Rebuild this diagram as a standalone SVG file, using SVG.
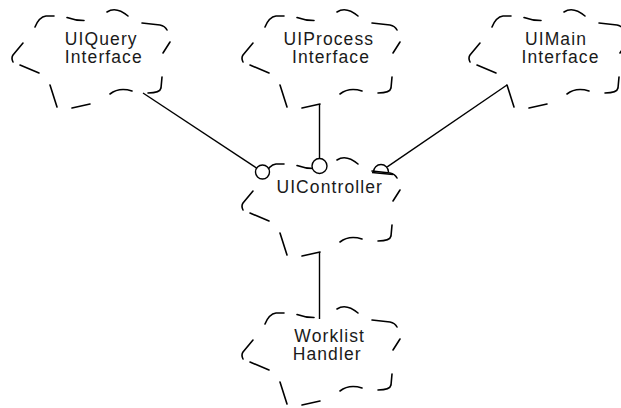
<svg xmlns="http://www.w3.org/2000/svg" xmlns:xlink="http://www.w3.org/1999/xlink" width="621" height="408" viewBox="0 0 621 408">
<style>
.cl path{fill:none;stroke:#000;stroke-width:1.6;stroke-linecap:round;stroke-linejoin:round}
.lbl{font-family:"Liberation Sans",Arial,sans-serif;font-size:17.5px;letter-spacing:1.1px;fill:#1a1a1a;text-anchor:middle}
.conn line,.conn path{stroke:#000;stroke-width:1.4;fill:none}
.lol{fill:#fff;stroke:#000;stroke-width:1.4}
</style>
<defs>
<g id="cloud" class="cl">
<path d="M35,27 Q39,17 46,16 L54,16"/>
<path d="M67,17.5 Q75,20.5 84,20.5"/>
<path d="M107,12 Q116,6 128,16"/>
<path d="M142,23 L160,25 Q165,26 167,30"/>
<path d="M170,42 L163,53"/>
<path d="M162,77 L161,88 Q160,93 148,93"/>
<path d="M110,94 Q119,87 132,91"/>
<path d="M72,108 L90,104"/>
<path d="M50,85 L57,107"/>
<path d="M20,65 L39,73"/>
<path d="M23,43 L13,55 Q11,58 13,62"/>
</g>
</defs>
<rect width="621" height="408" fill="#fff"/>
<g id="UIQueryInterface">
<use xlink:href="#cloud" href="#cloud"/>
<text class="lbl" x="101.3" y="44.5">UIQuery</text>
<text class="lbl" x="103.8" y="63.3">Interface</text>
</g>
<g id="UIProcessInterface">
<use xlink:href="#cloud" href="#cloud" transform="translate(230,0)"/>
<text class="lbl" x="328.8" y="44.5">UIProcess</text>
<text class="lbl" x="331" y="63.3">Interface</text>
</g>
<g id="UIMainInterface">
<use xlink:href="#cloud" href="#cloud" transform="translate(457,0)"/>
<text class="lbl" x="556" y="44.5">UIMain</text>
<text class="lbl" x="560.5" y="63.3">Interface</text>
</g>
<g id="UIController">
<use xlink:href="#cloud" href="#cloud" transform="translate(230,148)"/>
<text class="lbl" x="329.7" y="193.3">UIController</text>
</g>
<g id="WorklistHandler">
<use xlink:href="#cloud" href="#cloud" transform="translate(230,297)"/>
<text class="lbl" x="329.7" y="341.5">Worklist</text>
<text class="lbl" x="327.2" y="360.3">Handler</text>
</g>
<g id="connectors" class="conn">
<line x1="143" y1="93" x2="256.6" y2="168.1"/>
<line x1="319.5" y1="104" x2="319.5" y2="158.5"/>
<line x1="507" y1="85" x2="387.2" y2="166.8"/>
<line x1="319.5" y1="252" x2="319.5" y2="319"/>
<circle class="lol" cx="262.5" cy="172" r="7"/>
<circle class="lol" cx="319.5" cy="166" r="7.5"/>
<path d="M373.5,172 A7.5,7.5 0 0 1 388.5,172"/>
<path d="M372,172.5 L393,174.5" style="stroke-width:1.6"/>
</g>
</svg>
